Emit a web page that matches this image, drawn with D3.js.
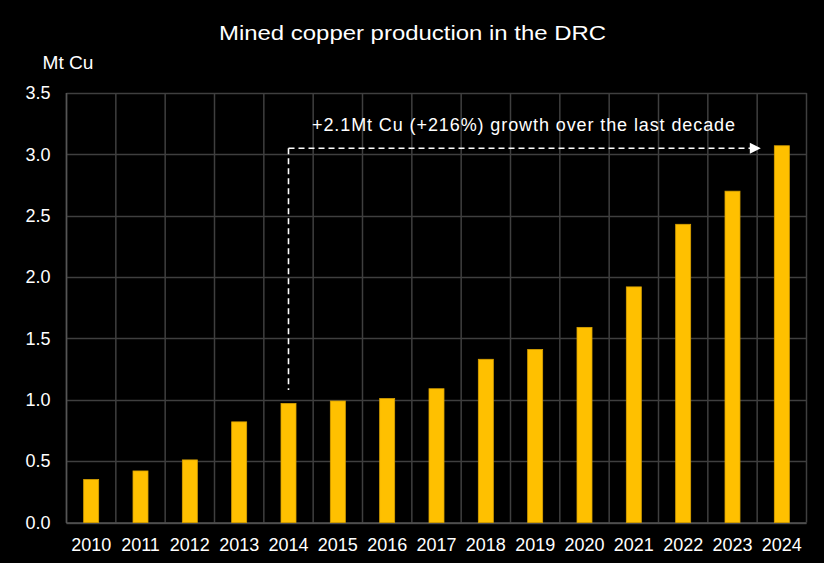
<!DOCTYPE html>
<html><head><meta charset="utf-8">
<script src="https://cdn.jsdelivr.net/npm/d3@7"></script>
<style>
html,body{margin:0;padding:0;background:#000;}
svg{display:block;font-family:"Liberation Sans",Arial,sans-serif;}
</style></head>
<body>
<svg id="chart" width="824" height="563"></svg>
<script>
const years = ["2010","2011","2012","2013","2014","2015","2016","2017","2018","2019","2020","2021","2022","2023","2024"];
const production = [0.35,0.42,0.51,0.82,0.97,0.99,1.01,1.09,1.33,1.41,1.59,1.92,2.43,2.70,3.07];
const yTicks = [0,0.5,1.0,1.5,2.0,2.5,3.0,3.5];
const title = "Mined copper production in the DRC";
const unitLabel = "Mt Cu";
const annotation = "+2.1Mt Cu (+216%) growth over the last decade";
const annotStart = "2014", annotEnd = "2024", annotLevel = 3.05, annotBase = 1.08;

const W = 824, H = 563;
const m = {left:66.5, right:824-806.5, top:93, bottom:563-522.5};
const svg = d3.select("#chart");
svg.append("rect").attr("width",W).attr("height",H).attr("fill","#000");

const x = d3.scaleBand().domain(years).range([m.left, W-m.right]).paddingInner(0).paddingOuter(0);
const y = d3.scaleLinear().domain([0,3.5]).range([H-m.bottom, m.top]);

const gridColor = "#3f3f3f";
// horizontal grid
svg.append("g").selectAll("line").data(yTicks).join("line")
  .attr("x1",m.left).attr("x2",W-m.right)
  .attr("y1",d=>Math.round(y(d))+0.5).attr("y2",d=>Math.round(y(d))+0.5)
  .attr("stroke",gridColor).attr("stroke-width",1.5);
// vertical grid at band boundaries
const bounds = years.map(d=>x(d)).concat([W-m.right]);
svg.append("g").selectAll("line").data(bounds).join("line")
  .attr("x1",d=>d).attr("x2",d=>d)
  .attr("y1",m.top).attr("y2",H-m.bottom)
  .attr("stroke",gridColor).attr("stroke-width",1.5);
// axis lines
svg.append("line").attr("x1",m.left).attr("x2",m.left).attr("y1",m.top).attr("y2",H-m.bottom+0.5)
  .attr("stroke","#555").attr("stroke-width",1.5);
svg.append("line").attr("x1",m.left).attr("x2",W-m.right).attr("y1",H-m.bottom+0.5).attr("y2",H-m.bottom+0.5)
  .attr("stroke","#555").attr("stroke-width",1.5);

// bars
const bw = 15;
svg.append("g").selectAll("rect").data(years).join("rect")
  .attr("x",(d)=>x(d)+x.bandwidth()/2-bw/2)
  .attr("width",bw)
  .attr("y",(d,i)=>y(production[i]))
  .attr("height",(d,i)=>y(0)-y(production[i]))
  .attr("fill","#FFC000").attr("stroke","#D9A200").attr("stroke-width",0.8);

// y axis labels
const yAxis = d3.axisLeft(y).tickValues(yTicks).tickFormat(d3.format(".1f")).tickSize(0).tickPadding(16);
const gy = svg.append("g").attr("transform",`translate(${m.left},0)`).call(yAxis);
gy.select(".domain").remove();
gy.selectAll("text").attr("fill","#fff").attr("font-size",18).attr("font-family","Liberation Sans, Arial, sans-serif");

// x axis labels
const xAxis = d3.axisBottom(x).tickSize(0).tickPadding(16);
const gx = svg.append("g").attr("transform",`translate(0,${H-m.bottom})`).call(xAxis);
gx.select(".domain").remove();
gx.selectAll("text").attr("fill","#fff").attr("font-size",18).attr("font-family","Liberation Sans, Arial, sans-serif");

// title
svg.append("text").attr("x",412.5).attr("y",40).attr("text-anchor","middle")
  .attr("fill","#fff").attr("font-size",21)
  .attr("textLength",387).attr("lengthAdjust","spacingAndGlyphs").text(title);
svg.append("text").attr("x",68).attr("y",69).attr("text-anchor","middle")
  .attr("fill","#fff").attr("font-size",18)
  .attr("textLength",51).attr("lengthAdjust","spacingAndGlyphs").text(unitLabel);

// annotation
const xs = x(annotStart)+x.bandwidth()/2;
const xe = x(annotEnd)+x.bandwidth()/2 - 21;
const ya = y(annotLevel);
svg.append("line").attr("x1",xs).attr("x2",xs).attr("y1",ya).attr("y2",y(annotBase))
  .attr("stroke","#fff").attr("stroke-width",1.6).attr("stroke-dasharray","6,4");
svg.append("line").attr("x1",xs).attr("x2",xe-10).attr("y1",ya).attr("y2",ya)
  .attr("stroke","#fff").attr("stroke-width",1.6).attr("stroke-dasharray","6,4");
svg.append("path").attr("d",`M${xe-11},${ya-5.5}L${xe},${ya}L${xe-11},${ya+5.5}Z`).attr("fill","#fff");
svg.append("text").attr("x",523.5).attr("y",ya-17).attr("text-anchor","middle")
  .attr("fill","#fff").attr("font-size",18)
  .attr("textLength",423).attr("lengthAdjust","spacing").text(annotation);
</script>
</body></html>
